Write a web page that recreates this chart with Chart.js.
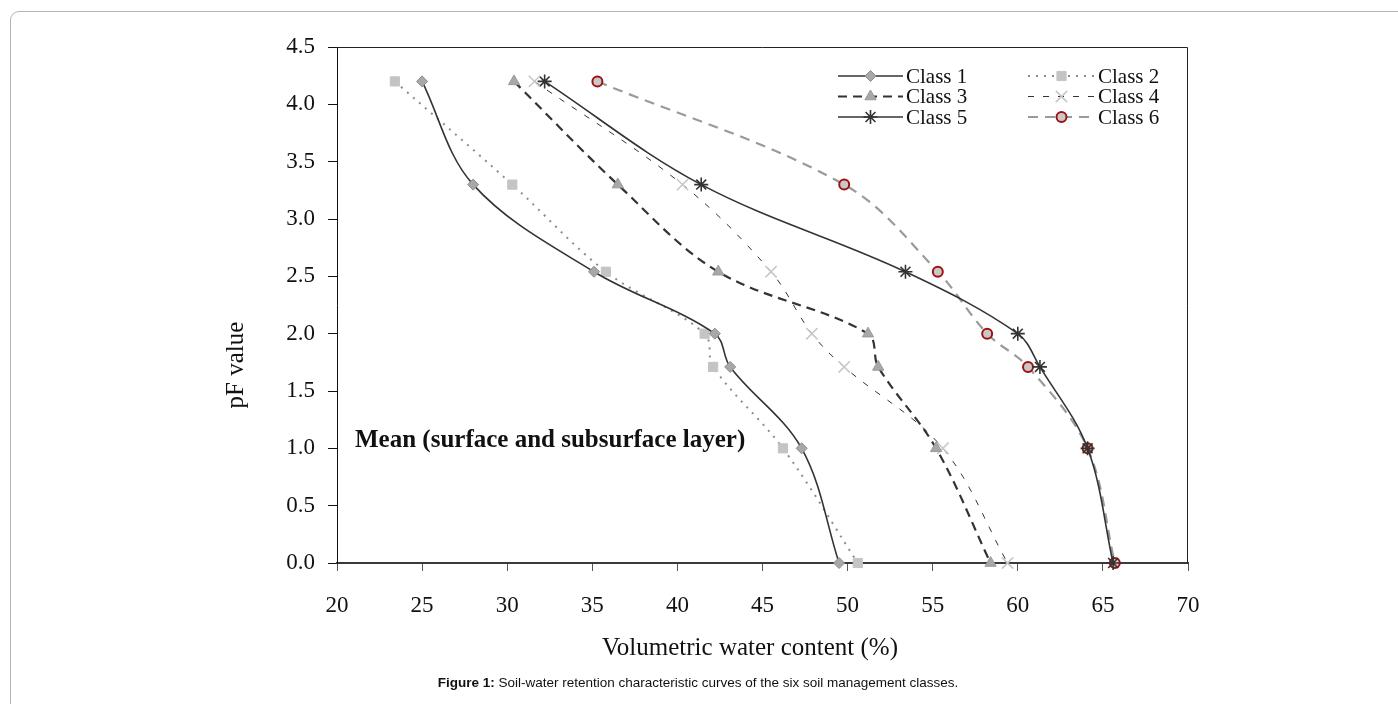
<!DOCTYPE html>
<html>
<head>
<meta charset="utf-8">
<script src="https://cdn.jsdelivr.net/npm/chart.js@4.4.1/dist/chart.umd.min.js"></script>
<style>
  html, body { margin: 0; padding: 0; background: #fff; overflow: hidden; }
  #wrap { position: relative; width: 1398px; height: 704px; }
  #frame { position: absolute; left: 10px; top: 11px; width: 1420px; height: 740px;
           border: 1px solid #b4b4b4; border-radius: 9px; box-sizing: border-box; }
  #c { position: absolute; left: 0; top: 0; }
  #caption { position: absolute; left: 0; width: 1396px; top: 675px; text-align: center;
             font-family: "Liberation Sans", Arial, sans-serif; font-size: 13.5px; color: #111; }
</style>
</head>
<body>
<div id="wrap">
  <div id="frame"></div>
  <canvas id="c" width="1398" height="704"></canvas>
  <div id="caption"><b>Figure 1:</b> Soil-water retention characteristic curves of the six soil management classes.</div>
</div>
<script>
// pF levels (y values) and volumetric water content (%) for each class
const pfLevels = [4.2, 3.3, 2.54, 2.0, 1.71, 1.0, 0.0];
const class1 = [25.0, 28.0, 35.1, 42.2, 43.1, 47.3, 49.5];
const class2 = [23.4, 30.3, 35.8, 41.6, 42.1, 46.2, 50.6];
const class3 = [30.4, 36.5, 42.4, 51.2, 51.8, 55.2, 58.4];
const class4 = [31.6, 40.3, 45.5, 47.9, 49.8, 55.6, 59.4];
const class5 = [32.2, 41.4, 53.4, 60.0, 61.3, 64.1, 65.6];
const class6 = [35.3, 49.8, 55.3, 58.2, 60.6, 64.1, 65.7];
const seriesNames = ['Class 1', 'Class 2', 'Class 3', 'Class 4', 'Class 5', 'Class 6'];
const xTicks = [20, 25, 30, 35, 40, 45, 50, 55, 60, 65, 70];
const yTicks = [0, 0.5, 1.0, 1.5, 2.0, 2.5, 3.0, 3.5, 4.0, 4.5];

const toPts = arr => arr.map((v, i) => ({ x: v, y: pfLevels[i] }));

const styles = [
  { borderColor: '#333', borderWidth: 1.6, borderDash: [], pointStyle: 'rectRot', pointRadius: 5.5,
    pointBackgroundColor: '#a8a8a8', pointBorderColor: '#8a8a8a', pointBorderWidth: 1 },
  { borderColor: '#8c8c8c', borderWidth: 2, borderDash: [2, 6], pointStyle: 'rect', pointRadius: 6.5,
    pointBackgroundColor: '#c4c4c4', pointBorderColor: '#c4c4c4', pointBorderWidth: 1 },
  { borderColor: '#333', borderWidth: 2.2, borderDash: [9, 6], pointStyle: 'triangle', pointRadius: 6.5,
    pointBackgroundColor: '#a8a8a8', pointBorderColor: '#9a9a9a', pointBorderWidth: 1 },
  { borderColor: '#333', borderWidth: 1, borderDash: [6, 9], pointStyle: 'crossRot', pointRadius: 8,
    pointBackgroundColor: '#c8c8c8', pointBorderColor: '#c8c8c8', pointBorderWidth: 1.6 },
  { borderColor: '#333', borderWidth: 1.6, borderDash: [], pointStyle: 'star', pointRadius: 7,
    pointBackgroundColor: '#333', pointBorderColor: '#333', pointBorderWidth: 1.6 },
  { borderColor: '#9a9a9a', borderWidth: 2.2, borderDash: [10, 7], pointStyle: 'circle', pointRadius: 5,
    pointBackgroundColor: '#c8c8c8', pointBorderColor: '#a01010', pointBorderWidth: 2 }
];
const allData = [class1, class2, class3, class4, class5, class6];

const datasets = allData.map((arr, i) => Object.assign({
  label: seriesNames[i],
  data: toPts(arr),
  showLine: true,
  tension: 0.35,
  clip: false,
  pointHoverRadius: styles[i].pointRadius
}, styles[i]));

const SERIF = '"Liberation Serif", "Times New Roman", serif';

const decor = {
  id: 'decor',
  beforeDatasetsDraw(chart) {
    const { ctx, chartArea: a } = chart;
    ctx.save();
    ctx.strokeStyle = '#222';
    ctx.lineWidth = 1;
    ctx.beginPath();
    ctx.moveTo(a.left, a.top + 0.5);
    ctx.lineTo(a.right - 0.5, a.top + 0.5);
    ctx.lineTo(a.right - 0.5, a.bottom);
    ctx.stroke();
    ctx.restore();
  },
  afterDraw(chart) {
    const { ctx } = chart;
    ctx.save();
    // axis titles
    ctx.fillStyle = '#111';
    ctx.font = '25px ' + SERIF;
    ctx.textAlign = 'center';
    ctx.textBaseline = 'middle';
    ctx.fillText('Volumetric water content (%)', 750, 648);
    ctx.save();
    ctx.translate(236, 365);
    ctx.rotate(-Math.PI / 2);
    ctx.fillText('pF value', 0, 0);
    ctx.restore();
    // annotation
    ctx.textAlign = 'left';
    ctx.font = 'bold 25px ' + SERIF;
    ctx.fillText('Mean (surface and subsurface layer)', 355, 441);
    // legend
    chart.data.datasets.forEach((ds, i) => {
      const col = i % 2, row = Math.floor(i / 2);
      const x0 = col ? 1028 : 838, x1 = col ? 1095 : 903;
      const y = 76 + row * 20.5;
      ctx.save();
      ctx.strokeStyle = ds.borderColor;
      ctx.lineWidth = ds.borderWidth;
      ctx.setLineDash(ds.borderDash || []);
      ctx.beginPath();
      ctx.moveTo(x0, y);
      ctx.lineTo(x1, y);
      ctx.stroke();
      ctx.setLineDash([]);
      ctx.fillStyle = ds.pointBackgroundColor;
      ctx.strokeStyle = ds.pointBorderColor;
      ctx.lineWidth = ds.pointBorderWidth;
      Chart.helpers.drawPoint(ctx, { pointStyle: ds.pointStyle, rotation: 0,
        radius: ds.pointRadius, borderWidth: ds.pointBorderWidth }, (x0 + x1) / 2, y);
      ctx.fillStyle = '#111';
      ctx.font = '21px ' + SERIF;
      ctx.textAlign = 'left';
      ctx.textBaseline = 'middle';
      ctx.fillText(ds.label, x1 + 3, y + 1);
      ctx.restore();
    });
    ctx.restore();
  }
};

new Chart(document.getElementById('c'), {
  type: 'scatter',
  data: { datasets },
  options: {
    responsive: false,
    animation: false,
    layout: { padding: { left: 200, right: 210, top: 47, bottom: 41 } },
    plugins: { legend: { display: false }, tooltip: { enabled: false } },
    scales: {
      x: {
        type: 'linear', min: 20, max: 70,
        afterBuildTicks: s => { s.ticks = xTicks.map(v => ({ value: v })); },
        afterFit: s => { s.height = 100; },
        border: { display: true, color: '#3a3a3a', width: 2 },
        grid: { drawOnChartArea: false, drawTicks: true, tickLength: 8, color: '#555', lineWidth: 1 },
        ticks: { color: '#111', font: { family: SERIF, size: 23 }, padding: 21, maxRotation: 0 }
      },
      y: {
        type: 'linear', min: 0, max: 4.5,
        afterBuildTicks: s => { s.ticks = yTicks.map(v => ({ value: v })); },
        afterFit: s => { s.width = 137; },
        border: { display: true, color: '#111', width: 1 },
        grid: { drawOnChartArea: false, drawTicks: true, tickLength: 9, color: '#111', lineWidth: 1 },
        ticks: { color: '#111', font: { family: SERIF, size: 23 }, padding: 13,
                 callback: v => Number(v).toFixed(1) }
      }
    }
  },
  plugins: [decor]
});
</script>
</body>
</html>
